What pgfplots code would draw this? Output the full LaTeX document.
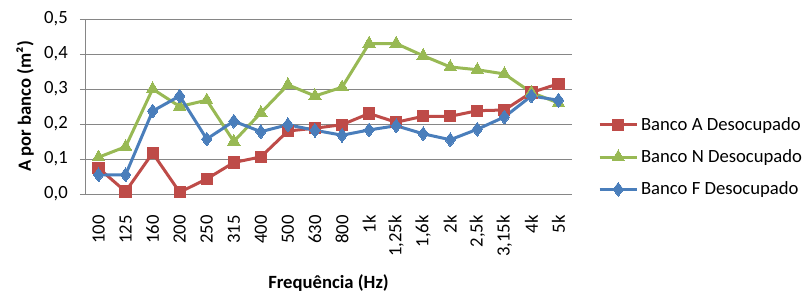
\documentclass[border=0pt]{standalone}
\usepackage{pgfplots}
\pgfplotsset{compat=1.18}
\usepackage{fontspec}
\setmainfont{Carlito}
\definecolor{cA}{HTML}{BE4B48}
\definecolor{cN}{HTML}{98B954}
\definecolor{cF}{HTML}{4A7EBB}
\definecolor{gridc}{HTML}{868686}
\begin{document}
\begin{tikzpicture}
\path[use as bounding box] (-63.75pt,-74.25pt) rectangle (542.25pt,145.5pt);
\begin{axis}[
  at={(0,0)}, anchor=south west,
  scale only axis,
  width=365.25pt, height=131.25pt,
  xmin=-0.5, xmax=17.5,
  ymin=0, ymax=0.5,
  ytick={0,0.1,0.2,0.3,0.4,0.5},
  yticklabels={{0,0},{0,1},{0,2},{0,3},{0,4},{0,5}},
  xtick={0,...,17},
  xticklabels={100,125,160,200,250,315,400,500,630,800,1k,{1,25k},{1,6k},2k,{2,5k},{3,15k},4k,5k},
  axis x line*=bottom, axis y line*=left,
  axis line style={gridc, line width=0.6pt, -},
  ymajorgrids, grid style={gridc, line width=0.6pt},
  x tick style={draw=none},
  y tick style={gridc, line width=0.6pt},
  tick align=outside, major tick length=3.75pt,
  tick label style={font=\fontsize{14}{16}\selectfont, text=black},
  yticklabel style={inner sep=0pt},
  yticklabel shift=9pt,
  xticklabel style={rotate=90, anchor=east, inner sep=0pt},
  xticklabel shift=12pt,
  xlabel={Frequência (Hz)},
  ylabel={A por banco (m²)},
  label style={font=\bfseries\fontsize{14}{16}\selectfont},
  xlabel style={at={(axis description cs:0.5,-0.509)}, anchor=center},
  ylabel style={at={(axis description cs:-0.123,0.5)}, anchor=center, rotate=0},
  legend style={at={(axis description cs:1.053,0.211)}, anchor=west, draw=none, fill=none,
    font=\fontsize{14}{16}\selectfont, row sep=9pt, inner sep=0pt},
  legend cell align=left,
  legend image code/.code={\draw[mark repeat=2, mark phase=2, #1] plot coordinates {(0pt,0pt) (14pt,0pt) (28pt,0pt)};},
  every axis plot/.append style={line width=2.25pt},
  clip=false,
]
\addplot[cA, mark=square*, mark size=4.2pt, mark options={solid, fill=cA, line width=0pt}] coordinates {
(0,0.074) (1,0.007) (2,0.117) (3,0.005) (4,0.043) (5,0.090) (6,0.106) (7,0.180) (8,0.188)
(9,0.198) (10,0.230) (11,0.205) (12,0.222) (13,0.222) (14,0.238) (15,0.240) (16,0.290) (17,0.315)};
\addlegendentry{Banco A Desocupado}
\addplot[cN, mark=triangle*, mark size=5.4pt, mark options={solid, fill=cN, line width=0pt}] coordinates {
(0,0.105) (1,0.135) (2,0.300) (3,0.250) (4,0.268) (5,0.150) (6,0.232) (7,0.312) (8,0.280)
(9,0.305) (10,0.430) (11,0.430) (12,0.395) (13,0.363) (14,0.355) (15,0.343) (16,0.290) (17,0.260)};
\addlegendentry{Banco N Desocupado}
\addplot[cF, mark=diamond*, mark size=5.2pt, mark options={solid, fill=cF, line width=0pt}] coordinates {
(0,0.055) (1,0.055) (2,0.237) (3,0.280) (4,0.157) (5,0.208) (6,0.178) (7,0.198) (8,0.182)
(9,0.168) (10,0.183) (11,0.195) (12,0.172) (13,0.155) (14,0.185) (15,0.220) (16,0.280) (17,0.268)};
\addlegendentry{Banco F Desocupado}
\end{axis}
\end{tikzpicture}
\end{document}
